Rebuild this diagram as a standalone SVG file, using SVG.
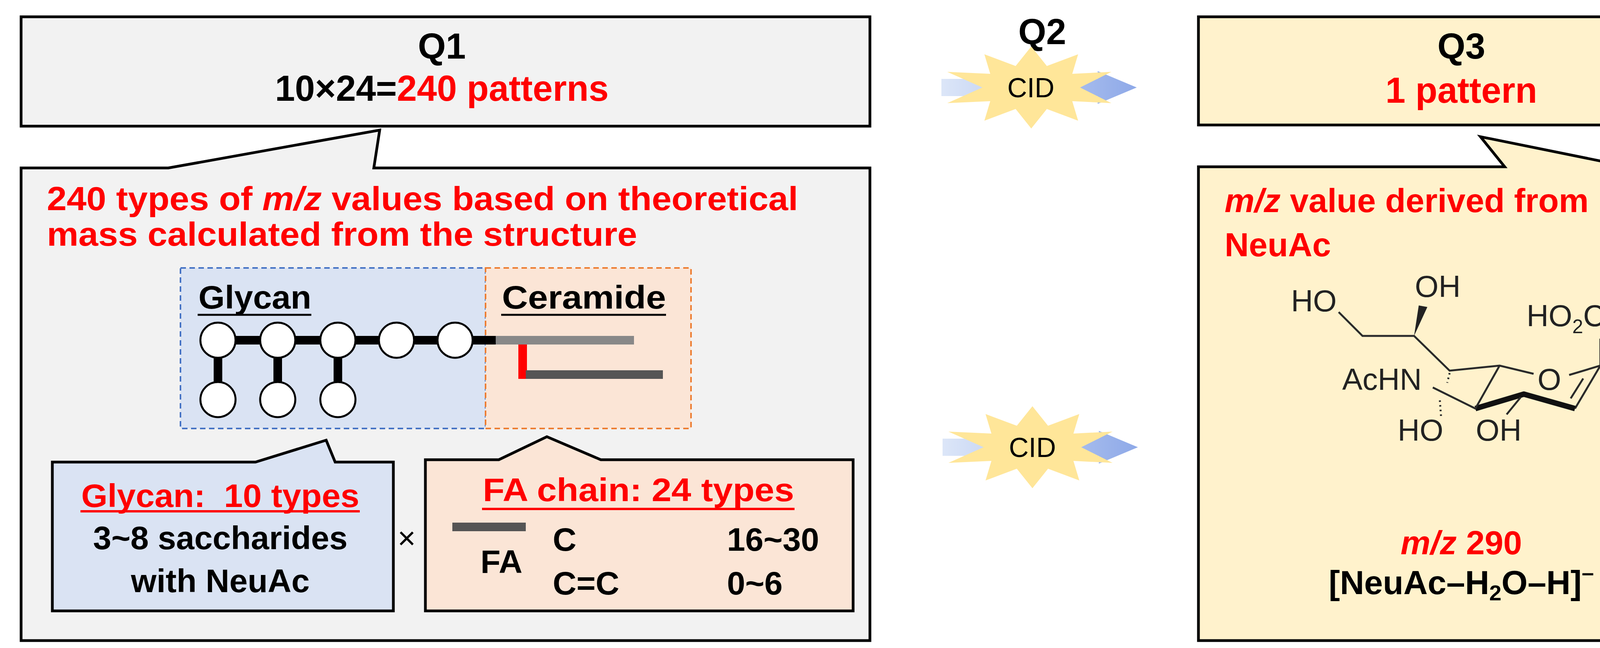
<svg xmlns="http://www.w3.org/2000/svg" width="4441" height="1659" viewBox="0 0 4441 1659">
<style>
text{font-family:"Liberation Sans",Arial,sans-serif}
.b{font-weight:bold}
.r{fill:#ff0000}
.box{stroke:#000;stroke-width:7}
.c{fill:#fff;stroke:#000;stroke-width:5}
.bond{stroke:#2a2a2a;stroke-width:5;fill:none}
.m{font-size:78px;fill:#222}
</style>
<defs>
<linearGradient id="ag" x1="0" x2="1" y1="0" y2="0">
<stop offset="0" stop-color="#dce6f8"/>
<stop offset="1" stop-color="#8ea9e8"/>
</linearGradient>
<g id="cid">
<path d="M-230,-22 L170,-22 L170,-42 L270,0 L170,42 L170,22 L-230,22 Z" fill="url(#ag)"/>
<polygon fill="#ffe699" points="0,-105 40,-55 120,-85 105,-35 205,-40 125,0 205,40 105,35 120,85 40,55 0,105 -40,55 -120,85 -105,35 -215,40 -125,0 -215,-40 -105,-35 -120,-85 -40,-55"/>
</g>
</defs>

<g id="q1">
<rect class="box" x="54" y="43" width="2173" height="280" fill="#f2f2f2"/>
<text class="b" x="1131" y="150" font-size="92" text-anchor="middle">Q1</text>
<text class="b" x="1131" y="258" font-size="92" text-anchor="middle">10×24=<tspan class="r">240 patterns</tspan></text>
</g>

<g id="q1-detail">
<path class="box" fill="#f2f2f2" d="M54,430 L431,430 L972,333 L957,430 L2227,430 L2227,1640 L54,1640 Z"/>
<text class="b r" x="120" y="538" font-size="86" textLength="1923" lengthAdjust="spacingAndGlyphs">240 types of <tspan font-style="italic">m/z</tspan> values based on theoretical</text>
<text class="b r" x="120" y="629" font-size="86" textLength="1511" lengthAdjust="spacingAndGlyphs">mass calculated from the structure</text>
</g>

<g id="glycan">
<rect x="462" y="686" width="781" height="411" fill="#dae3f3" stroke="#4472c4" stroke-width="4" stroke-dasharray="14,9"/>
<text class="b" x="508" y="790" font-size="84" textLength="289" lengthAdjust="spacingAndGlyphs">Glycan</text>
<line x1="506" y1="806" x2="797" y2="806" stroke="#000" stroke-width="5"/>
</g>
<g id="ceramide">
<rect x="1243" y="686" width="526" height="411" fill="#fbe5d6" stroke="#ed7d31" stroke-width="4" stroke-dasharray="14,9"/>
<text class="b" x="1285" y="790" font-size="84" textLength="420" lengthAdjust="spacingAndGlyphs">Ceramide</text>
<line x1="1283" y1="806" x2="1705" y2="806" stroke="#000" stroke-width="5"/>
</g>

<g id="connectors">
<line x1="558" y1="871" x2="1269" y2="871" stroke="#000" stroke-width="22"/>
<line x1="558" y1="871" x2="558" y2="1023" stroke="#000" stroke-width="22"/>
<line x1="711" y1="871" x2="711" y2="1023" stroke="#000" stroke-width="22"/>
<line x1="865" y1="871" x2="865" y2="1023" stroke="#000" stroke-width="22"/>
<line x1="1269" y1="871" x2="1623" y2="871" stroke="#888" stroke-width="22"/>
<line x1="1338" y1="882" x2="1338" y2="970" stroke="#ff0000" stroke-width="22"/>
<line x1="1346" y1="959" x2="1697" y2="959" stroke="#555" stroke-width="22"/>
</g>

<g id="sugars">
<circle class="c" cx="558" cy="871" r="45"/>
<circle class="c" cx="711" cy="871" r="45"/>
<circle class="c" cx="865" cy="871" r="45"/>
<circle class="c" cx="1015" cy="871" r="45"/>
<circle class="c" cx="1165" cy="871" r="45"/>
<circle class="c" cx="558" cy="1023" r="45"/>
<circle class="c" cx="711" cy="1023" r="45"/>
<circle class="c" cx="865" cy="1023" r="45"/>
</g>

<g id="glycan-types">
<path class="box" fill="#dae3f3" d="M134,1183 L654,1183 L835,1127 L858,1183 L1007,1183 L1007,1564 L134,1564 Z"/>
<text class="b r" x="208" y="1298" font-size="84" textLength="712" lengthAdjust="spacingAndGlyphs" xml:space="preserve">Glycan:  10 types</text>
<line x1="206" y1="1309" x2="921" y2="1309" stroke="#ff0000" stroke-width="6"/>
<text class="b" x="564" y="1406" font-size="84" text-anchor="middle">3~8 saccharides</text>
<text class="b" x="564" y="1516" font-size="84" text-anchor="middle">with NeuAc</text>
</g>

<text x="1041" y="1405" font-size="80" text-anchor="middle">×</text>

<g id="fa-types">
<path class="box" fill="#fbe5d6" d="M1089,1177 L1277,1177 L1400,1118 L1538,1177 L2184,1177 L2184,1564 L1089,1564 Z"/>
<text class="b r" x="1236" y="1283" font-size="84" textLength="797" lengthAdjust="spacingAndGlyphs">FA chain: 24 types</text>
<line x1="1234" y1="1303" x2="2034" y2="1303" stroke="#ff0000" stroke-width="6"/>
<line x1="1158" y1="1349" x2="1346" y2="1349" stroke="#555" stroke-width="22"/>
<text class="b" x="1230" y="1467" font-size="84">FA</text>
<text class="b" x="1415" y="1410" font-size="84">C</text>
<text class="b" x="1415" y="1522" font-size="84">C=C</text>
<text class="b" x="1861" y="1410" font-size="84">16~30</text>
<text class="b" x="1861" y="1522" font-size="84">0~6</text>
</g>

<g id="q2">
<text class="b" x="2668" y="113" font-size="92" text-anchor="middle">Q2</text>
<use href="#cid" x="2640" y="224"/>
<text x="2639" y="249" font-size="70" text-anchor="middle">CID</text>
<use href="#cid" x="2643" y="1145"/>
<text x="2643" y="1170" font-size="70" text-anchor="middle">CID</text>
</g>

<g id="q3">
<rect class="box" x="3068" y="43" width="1334" height="277" fill="#fff2cc"/>
<text class="b" x="3741" y="150" font-size="92" text-anchor="middle">Q3</text>
<text class="b r" x="3741" y="263" font-size="92" text-anchor="middle">1 pattern</text>
</g>

<g id="q3-detail">
<path class="box" fill="#fff2cc" d="M3068,427 L3852,427 L3790,350 L4170,427 L4402,427 L4402,1640 L3068,1640 Z"/>
<text class="b r" x="3135" y="543" font-size="86"><tspan font-style="italic">m/z</tspan> value derived from</text>
<text class="b r" x="3135" y="656" font-size="86">NeuAc</text>
<text class="m" x="3305" y="797">HO</text>
<text class="m" x="3622" y="760">OH</text>
<text class="m" x="3908" y="835">HO<tspan font-size="50" dy="18">2</tspan><tspan dy="-18">C</tspan></text>
<text class="m" x="3436" y="998">AcHN</text>
<text class="m" x="3936" y="998">O</text>
<text class="m" x="3578" y="1128">HO</text>
<text class="m" x="3778" y="1128">OH</text>
<path class="bond" d="M3427,799 L3488,860 L3620,860 L3711,949 L3839,936 L3926,957"/>
<polygon points="3620,860 3632,782 3654,786" fill="#222"/>
<path class="bond" d="M4017,960 L4097,936 L4097,867"/>
<path class="bond" d="M4097,936 L4032,1046"/>
<path class="bond" d="M4053,969 L4021,1020"/>
<path d="M4032,1046 L3901,1009 L3777,1046" fill="none" stroke="#111" stroke-width="14" stroke-linejoin="round"/>
<path class="bond" d="M3839,936 L3777,1046 L3668,992"/>
<path class="bond" d="M3893,1017 L3857,1061"/>
<path class="bond" stroke-dasharray="4,8" d="M3711,955 L3705,980"/>
<path class="bond" stroke-dasharray="4,8" d="M3686,1025 L3689,1065"/>
<text class="b r" x="3741" y="1419" font-size="86" text-anchor="middle"><tspan font-style="italic">m/z</tspan> 290</text>
<text class="b" x="3741" y="1521" font-size="86" text-anchor="middle">[NeuAc–H<tspan font-size="56" dy="16">2</tspan><tspan dy="-16">O–H]</tspan><tspan font-size="56" dy="-36">–</tspan></text>
</g>
</svg>
